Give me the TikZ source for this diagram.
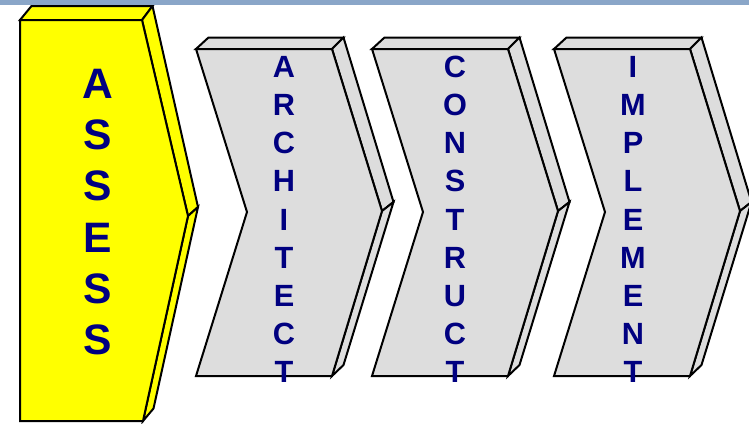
\documentclass[tikz,border=0pt]{standalone}
\usepackage{fontspec}
\setmainfont{Liberation Sans}
\definecolor{barblue}{HTML}{8AA6C8}
\definecolor{navy}{HTML}{000080}
\definecolor{chevgray}{HTML}{DDDDDD}
\definecolor{chevyellow}{HTML}{FFFF00}
\tikzset{
  face/.style={draw=black, line width=2bp, line join=miter},
  bigletter/.style={anchor=base, text=navy, inner sep=0pt,
    font=\fontsize{42.6bp}{50bp}\selectfont\bfseries},
  smallletter/.style={anchor=base, text=navy, inner sep=0pt,
    font=\fontsize{30.7bp}{36bp}\selectfont\bfseries}
}
\newcommand{\graychevron}[1]{%
  \begin{scope}[shift={(#1,0)}]
    \filldraw[face, fill=chevgray] (0,49) -- (136,49) -- (147.5,37.5) -- (12.5,37.5) -- cycle;
    \filldraw[face, fill=chevgray] (136,49) -- (186,211) -- (197.5,202) -- (147.5,37.5) -- cycle;
    \filldraw[face, fill=chevgray] (186,211) -- (136,376) -- (147.5,365) -- (197.5,202) -- cycle;
    \filldraw[face, fill=chevgray] (0,49) -- (136,49) -- (186,211) -- (136,376) -- (0,376) -- (51,212) -- cycle;
  \end{scope}}
\begin{document}
\begin{tikzpicture}[x=1bp, y=-1bp]
  \useasboundingbox (0,0) rectangle (749,423);
  \clip (0,0) rectangle (749,423);
  \fill[white] (0,0) rectangle (749,423);
  % yellow pentagon
  \filldraw[face, fill=chevyellow] (20,20) -- (142,20) -- (152.5,6) -- (31.5,6) -- cycle;
  \filldraw[face, fill=chevyellow] (142,20) -- (188,216) -- (198,207) -- (152.5,6) -- cycle;
  \filldraw[face, fill=chevyellow] (188,216) -- (143,421) -- (153.5,408.5) -- (198,207) -- cycle;
  \filldraw[face, fill=chevyellow] (20,20) -- (142,20) -- (188,216) -- (143,421) -- (20,421) -- cycle;
  % gray chevrons
  \graychevron{196}
  \graychevron{372}
  \graychevron{554}
  % letters
  \foreach \ch [count=\i] in {A,S,S,E,S,S}
    \node[bigletter] (as\i) at ({97.7},{98.5+51.2*(\i-1)}) {\ch};
  \foreach \ch [count=\i] in {A,R,C,H,I,T,E,C,T}
    \node[smallletter] (ar\i) at ({284},{77.5+38.15*(\i-1)}) {\ch};
  \foreach \ch [count=\i] in {C,O,N,S,T,R,U,C,T}
    \node[smallletter] (co\i) at ({455},{77.5+38.15*(\i-1)}) {\ch};
  \foreach \ch [count=\i] in {I,M,P,L,E,M,E,N,T}
    \node[smallletter] (im\i) at ({633},{77.5+38.15*(\i-1)}) {\ch};
  % top bar
  \fill[barblue] (0,0) rectangle (749,5);
\end{tikzpicture}
\end{document}
